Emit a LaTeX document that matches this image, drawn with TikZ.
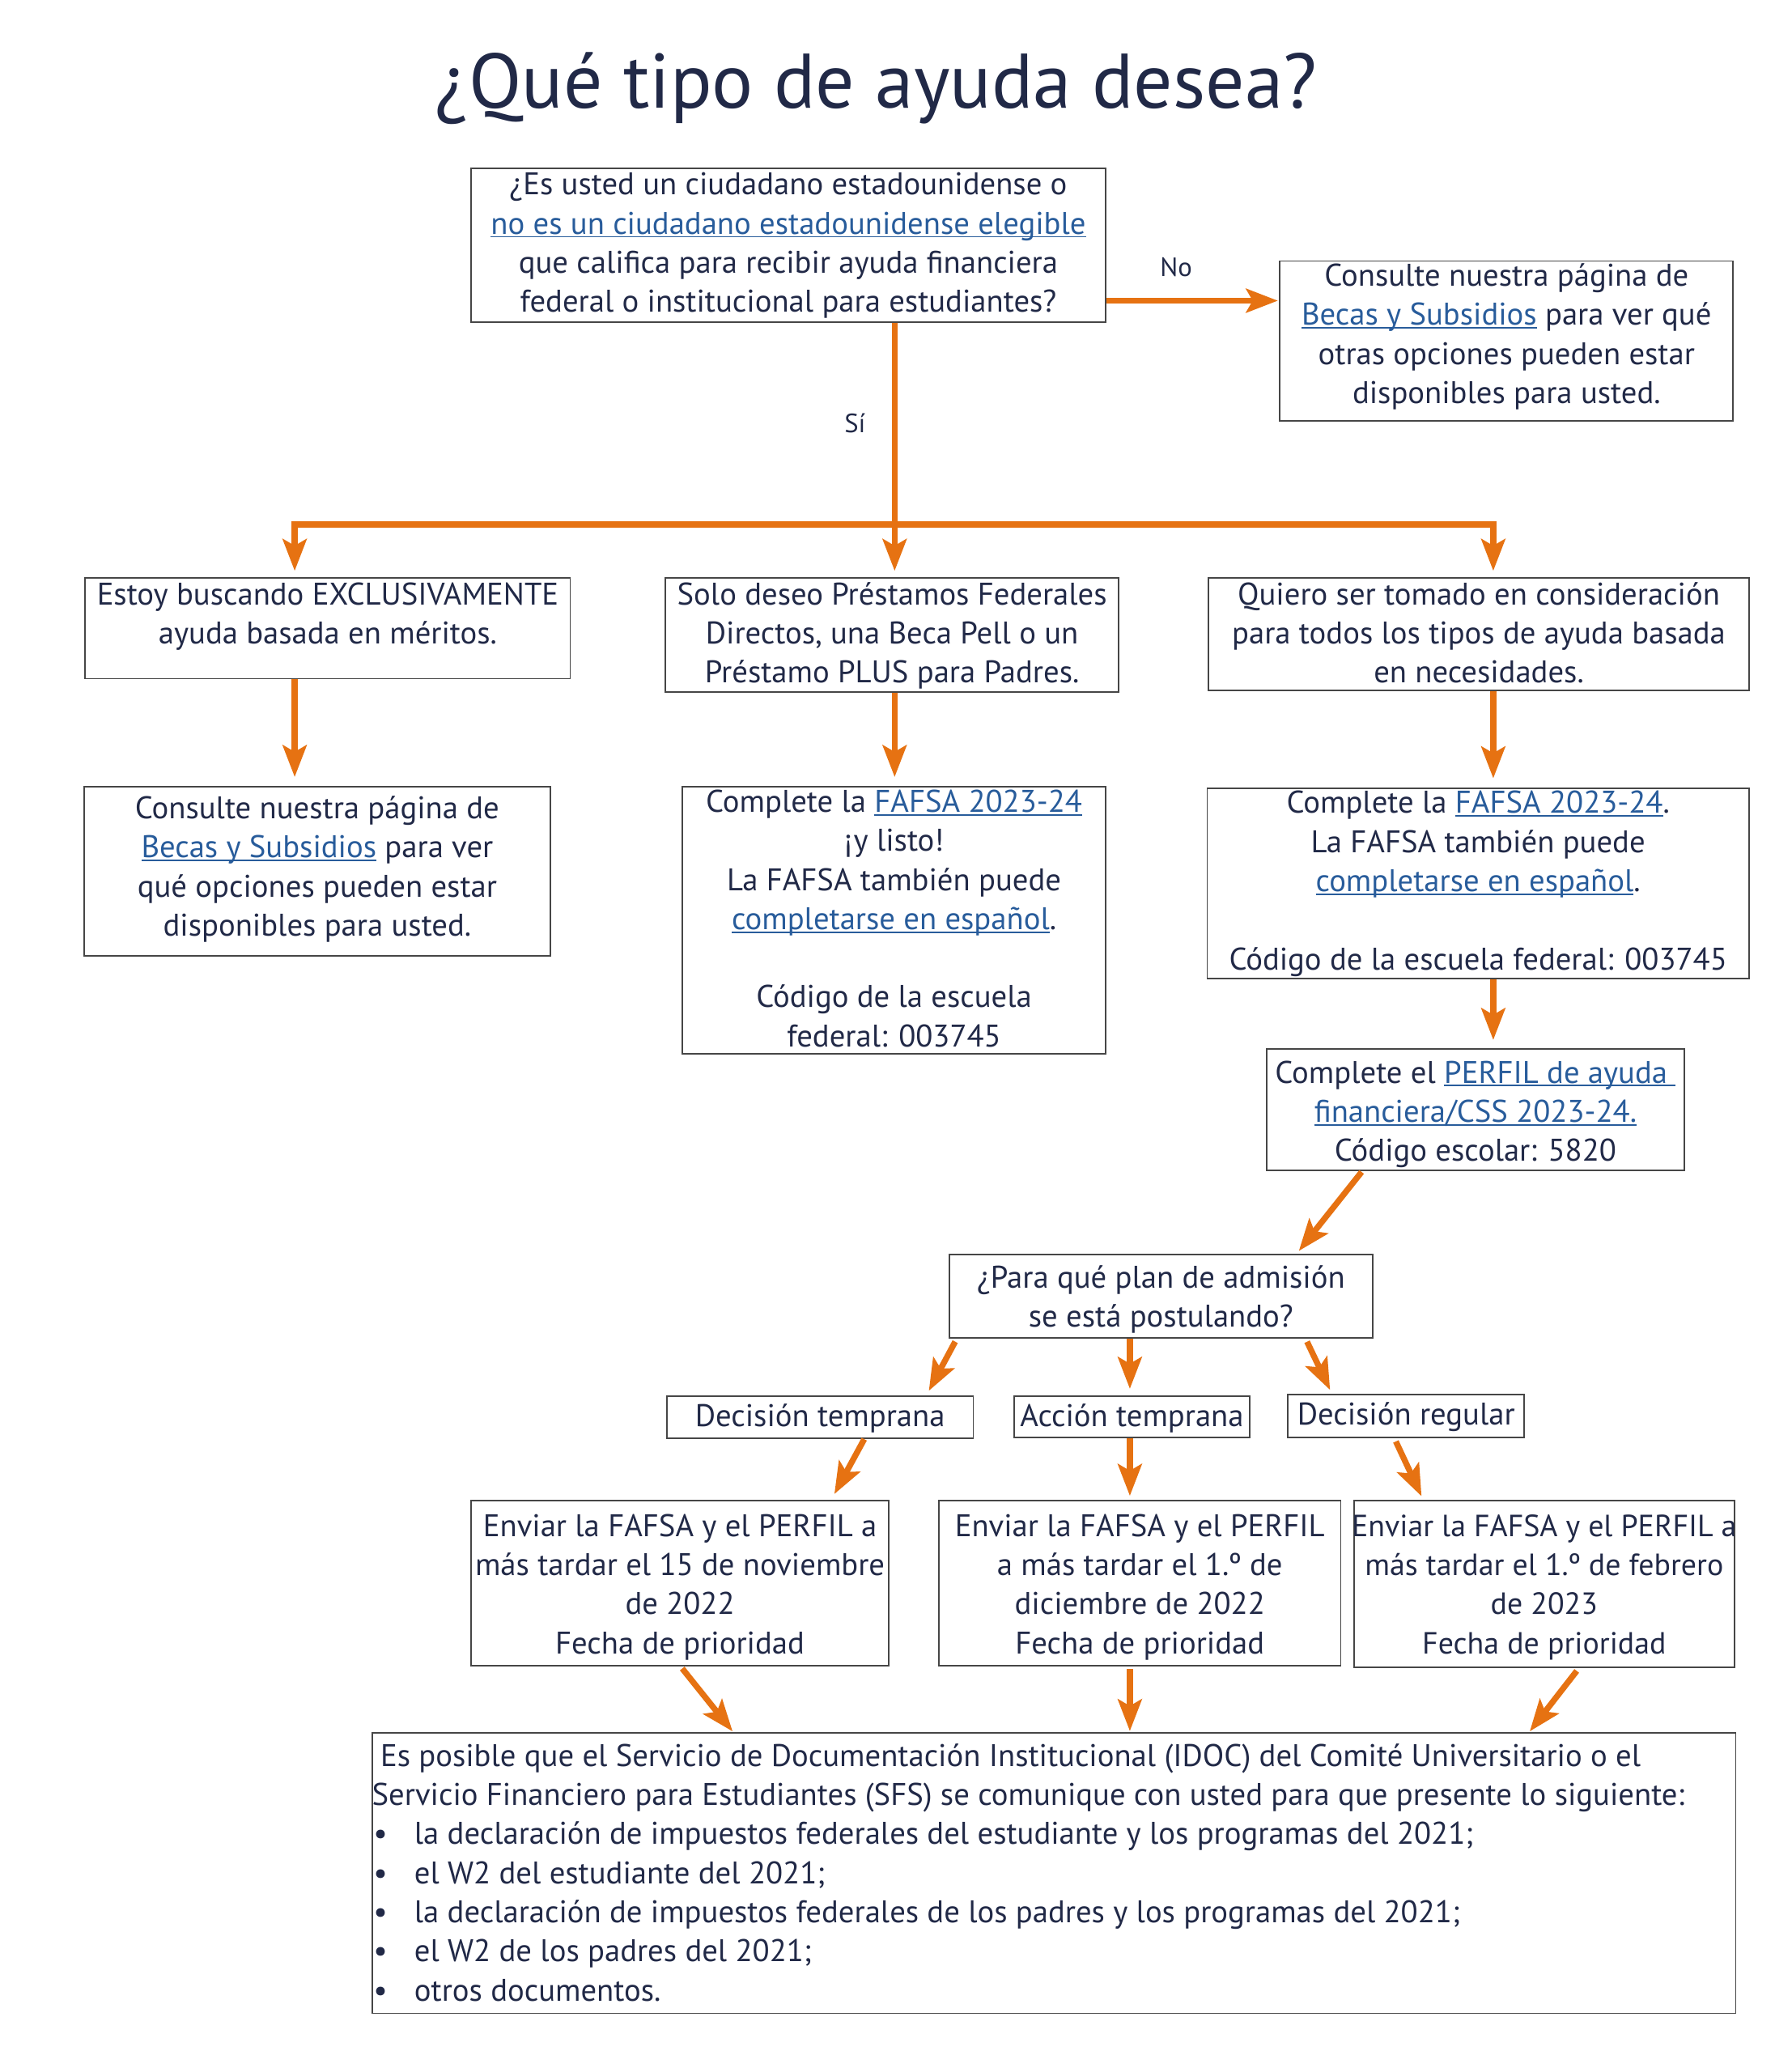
\documentclass[tikz,border=0pt]{standalone}
\usepackage{fontspec}
\setmainfont{PT Sans}
\usetikzlibrary{arrows.meta}

\definecolor{tinta}{RGB}{33,41,71}
\definecolor{azulenlace}{RGB}{40,92,155}
\definecolor{naranja}{RGB}{230,114,18}
\definecolor{bordegris}{RGB}{70,70,70}

% texto subrayado en azul
\newcommand{\enlace}[1]{\leavevmode{\color{azulenlace}\setbox0=\hbox{#1}\rlap{\rule[-2.6pt]{\wd0}{1.2pt}}\box0}}
% ancho, alto, primera linea base, texto
\newcommand{\cuadro}[4]{\parbox[c][#2pt][t]{#1pt}{\centering
  \leftskip=0pt plus 1fil minus 40pt\rightskip=0pt plus 1fil minus 40pt
  \vspace*{\dimexpr#3pt-\ht\strutbox\relax}\strut#4}}
\newcommand{\punto}{\makebox[32pt][l]{\hspace{1pt}•}}

\begin{document}
\begin{tikzpicture}[x=1pt,y=-1pt,
    caja/.style={draw=bordegris, line width=1.1pt, inner sep=0pt, anchor=north west,
      text=tinta, font=\fontsize{23.7pt}{29.6pt}\selectfont},
    flecha/.style={draw=naranja, line width=4.5pt,
      -{Stealth[length=24pt,width=18pt,inset=5pt]}, shorten >=6pt},
    linea/.style={draw=naranja, line width=4.5pt},
    etiqueta/.style={text=tinta, font=\fontsize{20pt}{24pt}\selectfont}]

    \useasboundingbox (0,0) rectangle (1356,1568);

    \node[text=tinta, font=\fontsize{58.5pt}{70pt}\selectfont, anchor=base] (titulo) at (663,82) {¿Qué tipo de ayuda desea?};

    % pregunta inicial
    \node[caja] (pregunta) at (356,127) {\cuadro{480}{116}{20}{¿Es usted un ciudadano estadounidense o\\
      \enlace{no es un ciudadano estadounidense elegible}\\
      que califica para recibir ayuda financiera\\
      federal o institucional para estudiantes?}};
    \node[caja] (becas) at (968,197) {\cuadro{343}{121}{19}{Consulte nuestra página de\\
      \enlace{Becas y Subsidios} para ver qué\\
      otras opciones pueden estar\\
      disponibles para usted.}};

    % tres opciones
    \node[caja] (meritos) at (64,437) {\cuadro{367}{76}{20}{Estoy buscando EXCLUSIVAMENTE\\
      ayuda basada en méritos.}};
    \node[caja] (prestamos) at (503,437) {\cuadro{343}{86}{20}{Solo deseo Préstamos Federales\\
      Directos, una Beca Pell o un\\
      Préstamo PLUS para Padres.}};
    \node[caja] (necesidad) at (914,437) {\cuadro{409}{85}{20}{Quiero ser tomado en consideración\\
      para todos los tipos de ayuda basada\\
      en necesidades.}};

    \node[caja] (becasdos) at (63,595) {\cuadro{353}{128}{24}{Consulte nuestra página de\\
      \enlace{Becas y Subsidios} para ver\\
      qué opciones pueden estar\\
      disponibles para usted.}};
    \node[caja] (fafsa) at (516,595) {\cuadro{320}{202}{19}{Complete la \enlace{FAFSA 2023-24}\\
      ¡y listo!\\
      La FAFSA también puede\\
      \enlace{completarse en español}.\\[29.6pt]
      Código de la escuela\\
      federal: 003745}};
    \node[caja] (fafsados) at (913,596) {\cuadro{410}{144}{19}{Complete la \enlace{FAFSA 2023-24}.\\
      La FAFSA también puede\\
      \enlace{completarse en español}.\\[29.6pt]
      Código de la escuela federal: 003745}};

    \node[caja] (perfil) at (958,793) {\cuadro{316}{92}{26}{Complete el \enlace{PERFIL de ayuda\ }\\
      \enlace{financiera/CSS 2023-24.}\\
      Código escolar: 5820}};
    \node[caja] (plan) at (718,949) {\cuadro{320}{63}{25}{¿Para qué plan de admisión\\
      se está postulando?}};

    % planes de admision
    \node[caja] (dtemp) at (504,1056) {\cuadro{232}{32}{23}{Decisión temprana}};
    \node[caja] (atemp) at (767,1056) {\cuadro{178}{31}{23}{Acción temprana}};
    \node[caja] (dreg) at (974,1055) {\cuadro{179}{32}{23}{Decisión regular}};

    \node[caja] (envnov) at (356,1135) {\cuadro{316}{125}{27}{Enviar la FAFSA y el PERFIL a\\
      más tardar el 15 de noviembre\\
      de 2022\\
      Fecha de prioridad}};
    \node[caja] (envdic) at (710,1135) {\cuadro{304}{125}{27}{Enviar la FAFSA y el PERFIL\\
      a más tardar el 1.º de\\
      diciembre de 2022\\
      Fecha de prioridad}};
    \node[caja, font=\fontsize{23.2pt}{29.6pt}\selectfont] (envfeb) at (1024,1135) {\cuadro{288}{126}{27}{Enviar la FAFSA y el PERFIL a\\
      más tardar el 1.º de febrero\\
      de 2023\\
      Fecha de prioridad}};

    \node[caja] (docs) at (281,1311) {\parbox[c][212pt][t]{1032pt}{\raggedright
      \rightskip=0pt plus 1fil minus 60pt
      \vspace*{\dimexpr25pt-\ht\strutbox\relax}\strut\ Es posible que el Servicio de Documentación Institucional (IDOC) del Comité Universitario o el\\
      Servicio Financiero para Estudiantes (SFS) se comunique con usted para que presente lo siguiente:\\
      \punto la declaración de impuestos federales del estudiante y los programas del 2021;\\
      \punto el W2 del estudiante del 2021;\\
      \punto la declaración de impuestos federales de los padres y los programas del 2021;\\
      \punto el W2 de los padres del 2021;\\
      \punto otros documentos.}};

    \node[etiqueta] (lno) at (890,202) {No};
    \node[etiqueta] (lsi) at (647,320) {Sí};

    % conectores
    \coordinate (qno) at ([yshift=-42pt]pregunta.east);
    \coordinate (bA) at (223,397);
    \coordinate (bB) at (677,397);
    \coordinate (bC) at (1130,397);
    \draw[flecha, shorten >=1pt] (qno) -- (qno -| becas.west);
    \draw[linea] ([xshift=321pt]pregunta.south west) -- (bB);
    \draw[linea, line cap=rect] (bA) -- (bC);
    \draw[flecha, shorten >=5pt] (bA) -- (bA |- meritos.north);
    \draw[flecha, shorten >=5pt] (bB) -- (bB |- prestamos.north);
    \draw[flecha, shorten >=5pt] (bC) -- (bC |- necesidad.north);
    \draw[flecha, shorten >=7pt] ([xshift=159pt]meritos.south west) -- ([xshift=160pt]becasdos.north west);
    \draw[flecha, shorten >=7pt] ([xshift=174pt]prestamos.south west) -- ([xshift=161pt]fafsa.north west);
    \draw[flecha, shorten >=7pt] ([xshift=216pt]necesidad.south west) -- ([xshift=217pt]fafsados.north west);
    \draw[flecha] ([xshift=217pt]fafsados.south west) -- ([xshift=172pt]perfil.north west);
    \draw[flecha, shorten >=3pt, shorten <=1pt] ([xshift=73pt]perfil.south west) -- ([xshift=263pt]plan.north west);
    \draw[flecha, shorten >=4pt, shorten <=2.5pt] ([xshift=6pt]plan.south west) -- ([xshift=197pt]dtemp.north west);
    \draw[flecha, shorten >=5pt] ([xshift=137pt]plan.south west) -- ([xshift=88pt]atemp.north west);
    \draw[flecha, shorten >=3.5pt, shorten <=2.5pt] ([xshift=270pt]plan.south west) -- ([xshift=34pt]dreg.north west);
    \draw[flecha, shorten >=5pt] ([xshift=150pt]dtemp.south west) -- ([xshift=273pt]envnov.north west);
    \draw[flecha, shorten >=3pt] ([xshift=88pt]atemp.south west) -- ([xshift=145pt]envdic.north west);
    \draw[flecha, shorten >=3pt, shorten <=3pt] ([xshift=81pt]dreg.south west) -- ([xshift=53pt]envfeb.north west);
    \draw[flecha, shorten >=1pt, shorten <=2pt] ([xshift=159pt]envnov.south west) -- ([xshift=274pt]docs.north west);
    \draw[flecha, shorten >=1pt, shorten <=2pt] ([xshift=145pt]envdic.south west) -- ([xshift=574pt]docs.north west);
    \draw[flecha, shorten >=1pt, shorten <=3pt] ([xshift=171pt]envfeb.south west) -- ([xshift=876pt]docs.north west);
\end{tikzpicture}
\end{document}
